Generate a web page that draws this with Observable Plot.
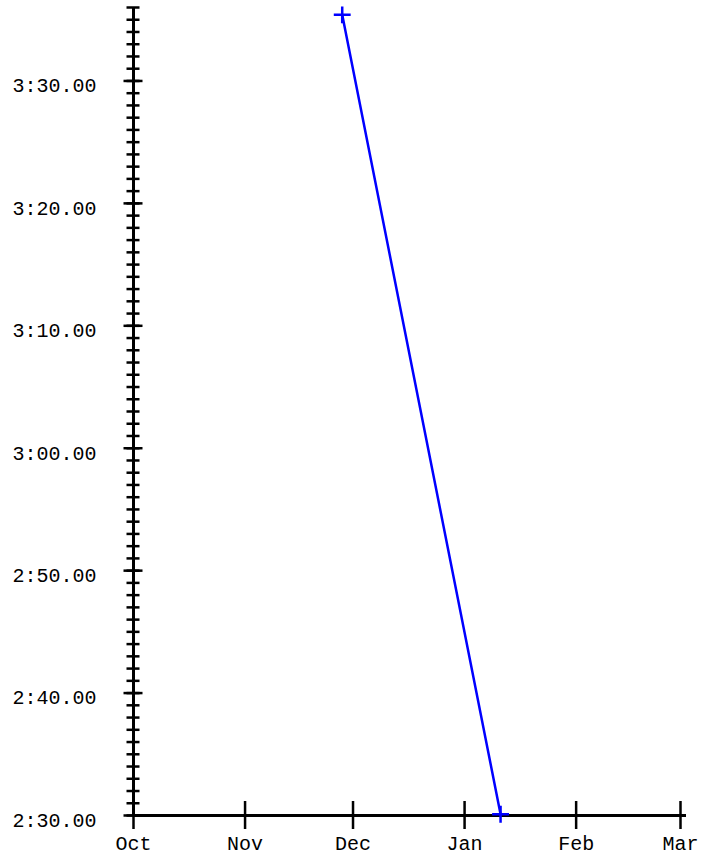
<!DOCTYPE html>
<html>
<head>
<meta charset="utf-8">
<script src="https://cdn.jsdelivr.net/npm/d3@7"></script>
<script src="https://cdn.jsdelivr.net/npm/@observablehq/plot@0.6"></script>
<style>
  html, body { margin: 0; padding: 0; background: #fff; }
  #chart svg { display: block; }
</style>
</head>
<body>
<div id="chart"></div>
<script>
// Data (times in seconds)
const dates = ["2023-11-28", "2024-01-11"];
const times = [215.4, 150.1];

// Axes
const xDomain = ["2023-10-01", "2024-03-01"];
const monthTicks = ["2023-10-01", "2023-11-01", "2023-12-01", "2024-01-01", "2024-02-01", "2024-03-01"];
const yDomain = [150, 216];
const yMajorTicks = [150, 160, 170, 180, 190, 200, 210];
const yMinorTicks = d3.range(150, 217, 1);

const data = dates.map((d, i) => ({date: new Date(d), t: times[i]}));
const fmtTime = s => `${Math.floor(s / 60)}:${String(Math.round(s % 60)).padStart(2, "0")}.00`;

const font = "'Liberation Mono', 'Courier New', monospace";

const chart = Plot.plot({
  width: 701,
  height: 857,
  marginLeft: 133,
  marginRight: 21,
  marginTop: 7,
  marginBottom: 42,
  style: {fontFamily: font, fontSize: "20px", color: "#000", background: "#fff"},
  x: {type: "utc", domain: xDomain.map(d => new Date(d))},
  y: {domain: yDomain},
  marks: [
    // minor y ticks (both sides of the axis)
    Plot.axisY({ticks: yMinorTicks, tickSize: 13, dx: 6.5, fill: "none", label: null, strokeWidth: 2.5, tickFormat: () => ""}),
    // major y ticks
    Plot.axisY({ticks: yMajorTicks, tickSize: 19, dx: 9.5, fill: "none", label: null, strokeWidth: 2.5, tickFormat: () => ""}),
    // y labels
    Plot.axisY({ticks: yMajorTicks, tickSize: 0, tickPadding: 37, dy: 5, label: null, tickFormat: fmtTime, fontSize: 20}),
    // x ticks crossing the axis line
    Plot.axisX({ticks: monthTicks.map(d => new Date(d)), tickSize: 28, dy: -14, fill: "none", label: null, strokeWidth: 2.5, tickFormat: () => ""}),
    // x labels
    Plot.axisX({ticks: monthTicks.map(d => new Date(d)), tickSize: 0, tickPadding: 20, label: null, tickFormat: d3.utcFormat("%b"), fontSize: 20}),
    // axis lines
    Plot.ruleX([new Date(xDomain[0])], {stroke: "#000", strokeWidth: 3}),
    Plot.ruleY([yDomain[0]], {stroke: "#000", strokeWidth: 3, insetRight: -6}),
    // data
    Plot.line(data, {x: "date", y: "t", stroke: "#0000ff", strokeWidth: 2.5}),
    Plot.dot(data, {x: "date", y: "t", symbol: "plus", r: 5.5, stroke: "#0000ff", strokeWidth: 2.5})
  ]
});

document.getElementById("chart").appendChild(chart);
</script>
</body>
</html>
